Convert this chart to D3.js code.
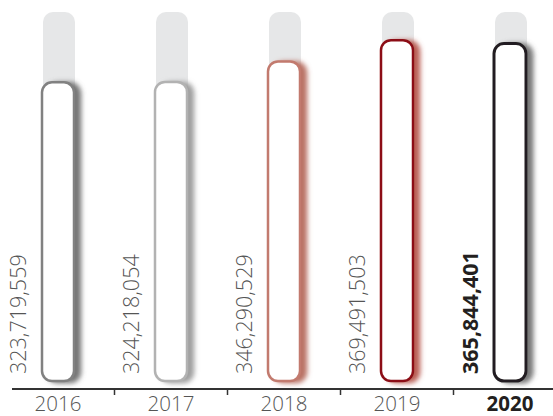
<!DOCTYPE html>
<html>
<head>
<meta charset="utf-8">
<script src="https://cdn.jsdelivr.net/npm/d3@7"></script>
<style>
  html, body { margin: 0; padding: 0; background: #fff; }
  svg { display: block; }
  text { font-family: "Open Sans", sans-serif; }
</style>
</head>
<body>
<svg id="chart" width="553" height="416"></svg>
<script>
const years = ["2016", "2017", "2018", "2019", "2020"];
const values = [323719559, 324218054, 346290529, 369491503, 365844401];
const strokeColors = ["#818181", "#b2b2b2", "#c27a6e", "#8c0f17", "#231f20"];
const shadowColors = ["#6e6e6e", "#9a9a9a", "#b56a5c", "#b5544c", "#707070"];
const highlightYear = "2020";
const yMax = 400000000;

const W = 553, H = 416;
const svg = d3.select("#chart");

const x = d3.scaleBand().domain(years).range([1.5, 566.5]).padding(0);
const y = d3.scaleLinear().domain([0, yMax]).range([381, 12]);
const barW = 32;
const fmt = d3.format(",");

const defs = svg.append("defs");
years.forEach((yr, i) => {
  const f = defs.append("filter").attr("id", "sh" + i)
    .attr("x", "-50%").attr("y", "-10%").attr("width", "200%").attr("height", "120%");
  f.append("feDropShadow").attr("dx", 6).attr("dy", 1).attr("stdDeviation", 2.4)
    .attr("flood-color", shadowColors[i]).attr("flood-opacity", 0.95);
});

const g = svg.append("g");
const data = years.map((yr, i) => ({ yr, v: values[i], i }));

// background tracks
g.selectAll("rect.bg").data(data).join("rect").attr("class", "bg")
  .attr("x", d => x(d.yr) + x.bandwidth() / 2 - barW / 2 + 1)
  .attr("y", y(yMax))
  .attr("width", barW)
  .attr("height", d => y(0) - y(yMax))
  .attr("rx", 10)
  .attr("fill", "#e6e7e8");

// bars
g.selectAll("rect.bar").data(data).join("rect").attr("class", "bar")
  .attr("x", d => x(d.yr) + x.bandwidth() / 2 - barW / 2)
  .attr("y", d => y(d.v))
  .attr("width", barW)
  .attr("height", d => y(0) - y(d.v))
  .attr("rx", 10)
  .attr("fill", "#fff")
  .attr("stroke", d => strokeColors[d.i])
  .attr("stroke-width", d => d.yr === highlightYear ? 3 : 2.5)
  .attr("filter", d => `url(#sh${d.i})`);

// value labels (rotated)
g.selectAll("text.val").data(data).join("text").attr("class", "val")
  .attr("transform", d => `translate(${x(d.yr) + x.bandwidth() / 2 - barW / 2 - 16},374) rotate(-90)`)
  .attr("text-anchor", "start")
  .attr("font-size", 21.5)
  .attr("font-weight", d => d.yr === highlightYear ? 700 : 300)
  .attr("fill", d => d.yr === highlightYear ? "#231f20" : "#555")
  .text(d => fmt(d.v));

// axis line
const axisY = 389;
svg.append("line").attr("x1", 12).attr("x2", W).attr("y1", axisY).attr("y2", axisY)
  .attr("stroke", "#333").attr("stroke-width", 2);

// ticks at band boundaries
svg.selectAll("line.tick").data(years.slice(1)).join("line").attr("class", "tick")
  .attr("x1", d => x(d)).attr("x2", d => x(d))
  .attr("y1", axisY).attr("y2", axisY + 6)
  .attr("stroke", "#333").attr("stroke-width", 1.5);

// year labels
svg.selectAll("text.yr").data(years).join("text").attr("class", "yr")
  .attr("x", d => x(d) + x.bandwidth() / 2)
  .attr("y", 411)
  .attr("text-anchor", "middle")
  .attr("font-size", 20.5)
  .attr("font-weight", d => d === highlightYear ? 700 : 300)
  .attr("fill", d => d === highlightYear ? "#231f20" : "#555")
  .text(d => d);
</script>
</body>
</html>
